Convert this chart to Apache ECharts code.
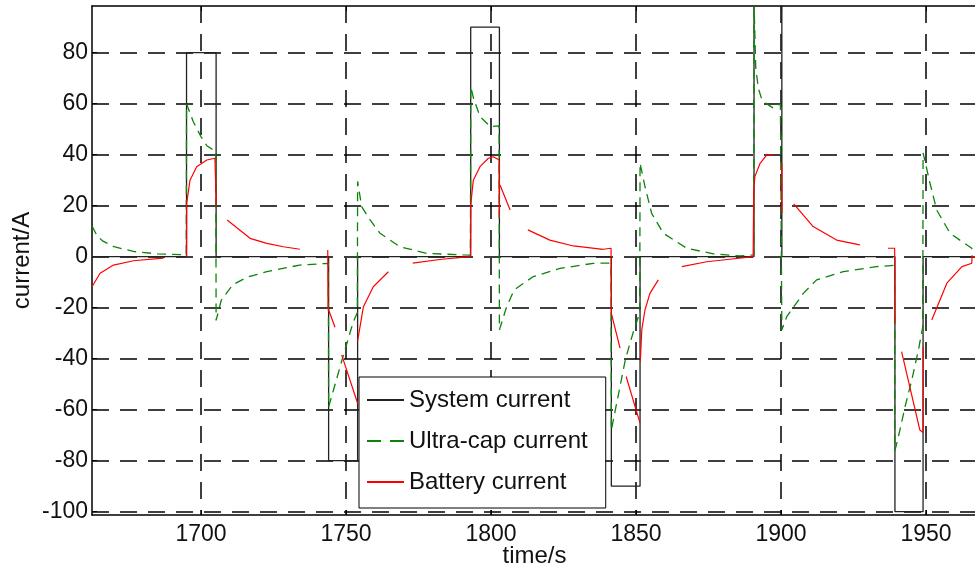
<!DOCTYPE html>
<html>
<head>
<meta charset="utf-8">
<script src="https://cdn.jsdelivr.net/npm/echarts@6/dist/echarts.min.js"></script>
<style>
  html, body { margin: 0; padding: 0; background: #fff; }
  #chart { width: 975px; height: 569px; }
</style>
</head>
<body>
<div id="chart"></div>
<script>
// Axis ticks
const timeTicks = [1700, 1750, 1800, 1850, 1900, 1950];
const currentTicks = [-100, -80, -60, -40, -20, 0, 20, 40, 60, 80];

// Load current demanded from the pack (square pulses), [time s, current A]
const systemCurrent = [
  [1662.4, 0], [1695, 0], [1695, 80], [1705.2, 80], [1705.2, 0],
  [1744, 0], [1744, -80], [1754, -80], [1754, 0],
  [1793, 0], [1793, 90], [1802.9, 90], [1802.9, 0],
  [1841.5, 0], [1841.5, -90], [1851.4, -90], [1851.4, 0],
  [1890.7, 0], [1890.7, 100], [1900.3, 100], [1900.3, 0],
  [1939.3, 0], [1939.3, -100], [1949, -100], [1949, 0],
  [1968, 0]
];

// Ultra-capacitor branch current
const ultraCapCurrent = [
  [1662.4, 12], [1664, 8.5], [1666, 6.2], [1670, 3.9], [1677, 2], [1685, 1.1], [1694.9, 0.7],
  [1695, 60], [1697.3, 53], [1700, 47], [1702, 43.5], [1705.1, 41.2],
  [1705.2, -25], [1707, -17], [1711, -11], [1716, -8], [1722.7, -5.9], [1734, -3.3], [1743.9, -2.6],
  [1744, -59], [1746, -51], [1748.5, -41], [1752.5, -25.5], [1753.9, -22],
  [1754, 29.5], [1755.4, 19.6], [1758.3, 14.4], [1761.7, 9.2], [1768.6, 3.9], [1777.8, 1.3], [1790.4, 0.7], [1792.9, 0.6],
  [1793, 66.7], [1794, 62], [1796.2, 55], [1799.7, 51], [1802.8, 51.3],
  [1802.9, -28.7], [1805.4, -19.6], [1808, -13], [1814.6, -7.8], [1823.8, -4.6], [1835.3, -2.6], [1841.4, -2.5],
  [1841.5, -68], [1846.4, -40], [1849.3, -28.7], [1851.3, -22],
  [1851.4, 36.7], [1853.1, 27.5], [1855.4, 17], [1859.4, 9.2], [1867.5, 3.3], [1876.7, 1.1], [1885.9, 0.3], [1890.6, 0.7],
  [1890.7, 100], [1891.3, 74], [1892.2, 66], [1893.3, 62], [1895, 60], [1897.3, 58.3], [1899.8, 60], [1900.2, 60],
  [1900.3, -28.7], [1902, -23.5], [1907.7, -14.4], [1912.3, -9.1], [1921.5, -5.9], [1933, -3.9], [1939.2, -3.4],
  [1939.3, -76], [1940.5, -70.6], [1942.8, -58.8], [1945.1, -48.4], [1947.4, -36.6], [1948.9, -27.5],
  [1949, 40.7], [1951.4, 28.8], [1953.7, 18.3], [1958.3, 9.2], [1961.7, 6.5], [1965.8, 3.3], [1965.9, 0]
];

// Battery branch current (breaks where the trace is not drawn)
const batteryCurrent = [
  [1662.4, -11.8], [1665.2, -6.5], [1669.8, -3.3], [1676.7, -1.6], [1687, -0.6], [1691, null],
  [1695, 0], [1695.05, 20.9], [1696.2, 30], [1698.5, 35.3], [1702, 37.9], [1704.8, 38.6], [1705.2, 38.6], [1705.25, 20], [1707, null],
  [1709, 14.4], [1716.9, 7.2], [1722.7, 5.2], [1728.4, 3.9], [1734.1, 2.9], [1740, null],
  [1743.7, 2.6], [1743.8, -20.2], [1746.2, -27.7], [1747, null],
  [1748.5, -38.5], [1754, -57.5], [1754, null],
  [1754, -33], [1756, -19.6], [1759.4, -11.8], [1764.6, -5.9], [1770, null],
  [1773, -2.5], [1783, -1], [1792.9, 0],
  [1793, 20.3], [1793.9, 30], [1796.2, 35.3], [1799.1, 38.6], [1800.8, 39.2], [1802.8, 37.9], [1802.9, 15.7], [1803, null],
  [1803.1, 28.1], [1806.6, 18.3], [1810, null],
  [1812.7, 10.5], [1820.3, 6.5], [1828.4, 4.2], [1838.7, 2.9], [1841.4, 3.3],
  [1841.5, -22.2], [1844.5, -35.9], [1845.5, null],
  [1846.6, -47], [1851.4, -65.3], [1851.45, null],
  [1851.5, -41], [1852, -28.7], [1853.1, -20.9], [1854.8, -14.4], [1857.7, -9.1], [1860, null],
  [1865.8, -3.9], [1874.4, -2], [1882.4, -1], [1890.4, 0],
  [1890.6, 26], [1891, 31.4], [1892.8, 36.6], [1895.1, 39.9], [1897.3, 40], [1899, null],
  [1900.3, 36.7], [1900.35, 17], [1902, null],
  [1904.4, 20.7], [1911.1, 11.8], [1919.2, 6.5], [1927.2, 4.6], [1932, null],
  [1936.9, 3.3], [1939.2, 3.3], [1939.3, -26], [1940, null],
  [1941.6, -37.2], [1947.9, -68], [1949, -69], [1949.05, -35.3], [1950, null],
  [1952, -24.8], [1957.2, -10.4], [1962.4, -3.9], [1965.8, -2.6], [1965.9, 0], [1968, 0]
];

const FONT = '"Liberation Sans", Arial, sans-serif';
const chart = echarts.init(document.getElementById('chart'), null, { renderer: 'canvas' });

const gridDash = { color: '#000', width: 1.5, type: [17, 11] };
const plainNumber = (v) => String(v);

chart.setOption({
  animation: false,
  backgroundColor: '#fff',
  grid: { left: 92, top: 6, right: -2, bottom: 54, containLabel: false, outerBoundsMode: 'none' },
  legend: {
    orient: 'vertical',
    left: 359,
    top: 377,
    backgroundColor: '#fff',
    borderColor: '#000',
    borderWidth: 1,
    borderRadius: 0,
    padding: [11, 18, 14, 7],
    itemGap: 17,
    itemWidth: 37,
    itemHeight: 20,
    itemStyle: { opacity: 0 },
    textStyle: { fontSize: 24, color: '#111', fontFamily: FONT },
    data: [
      { name: 'System current' },
      { name: 'Ultra-cap current', lineStyle: { type: [14, 9] } },
      { name: 'Battery current' }
    ]
  },
  xAxis: [{
    type: 'value',
    min: 1662.4,
    max: 1967.6,
    position: 'bottom',
    name: 'time/s',
    nameLocation: 'middle',
    nameGap: 29,
    nameMoveOverlap: false,
    nameTextStyle: { fontSize: 24, color: '#111', fontFamily: FONT },
    axisLine: { show: true, onZero: false, lineStyle: { color: '#000', width: 1.5 } },
    axisTick: { show: true, inside: true, length: 5, customValues: timeTicks, lineStyle: { color: '#000' } },
    axisLabel: { customValues: timeTicks, formatter: plainNumber, fontSize: 23, color: '#111', fontFamily: FONT, margin: 8 },
    splitLine: { show: true, lineStyle: gridDash }
  }, {
    type: 'value',
    min: 1662.4,
    max: 1967.6,
    position: 'top',
    axisLine: { show: true, onZero: false, lineStyle: { color: '#000', width: 1.5 } },
    axisTick: { show: true, inside: true, length: 5, customValues: timeTicks, lineStyle: { color: '#000' } },
    axisLabel: { show: false },
    splitLine: { show: false }
  }],
  yAxis: {
    type: 'value',
    min: -101.3,
    max: 98.3,
    name: 'current/A',
    nameLocation: 'middle',
    nameRotate: 90,
    nameGap: 58,
    nameMoveOverlap: false,
    nameTextStyle: { fontSize: 24, color: '#111', fontFamily: FONT },
    axisLine: { show: true, onZero: false, lineStyle: { color: '#000', width: 1.5 } },
    axisTick: { show: true, inside: true, length: 5, customValues: currentTicks, lineStyle: { color: '#000' } },
    axisLabel: { customValues: currentTicks, formatter: plainNumber, fontSize: 23, color: '#111', fontFamily: FONT, margin: 4 },
    splitLine: { show: true, lineStyle: gridDash }
  },
  series: [
    {
      name: 'System current',
      type: 'line',
      xAxisIndex: 0,
      data: systemCurrent,
      symbol: 'none',
      connectNulls: false,
      color: '#000',
      lineStyle: { color: '#222', width: 1.3 }
    },
    {
      name: 'Ultra-cap current',
      type: 'line',
      xAxisIndex: 0,
      data: ultraCapCurrent,
      symbol: 'none',
      connectNulls: false,
      color: '#0a840a',
      lineStyle: { color: '#0a840a', width: 1.3, type: [9, 6] }
    },
    {
      name: 'Battery current',
      type: 'line',
      xAxisIndex: 0,
      data: batteryCurrent,
      symbol: 'none',
      connectNulls: false,
      color: '#ff0000',
      lineStyle: { color: '#ff0000', width: 1.2 }
    }
  ]
});
</script>
</body>
</html>
